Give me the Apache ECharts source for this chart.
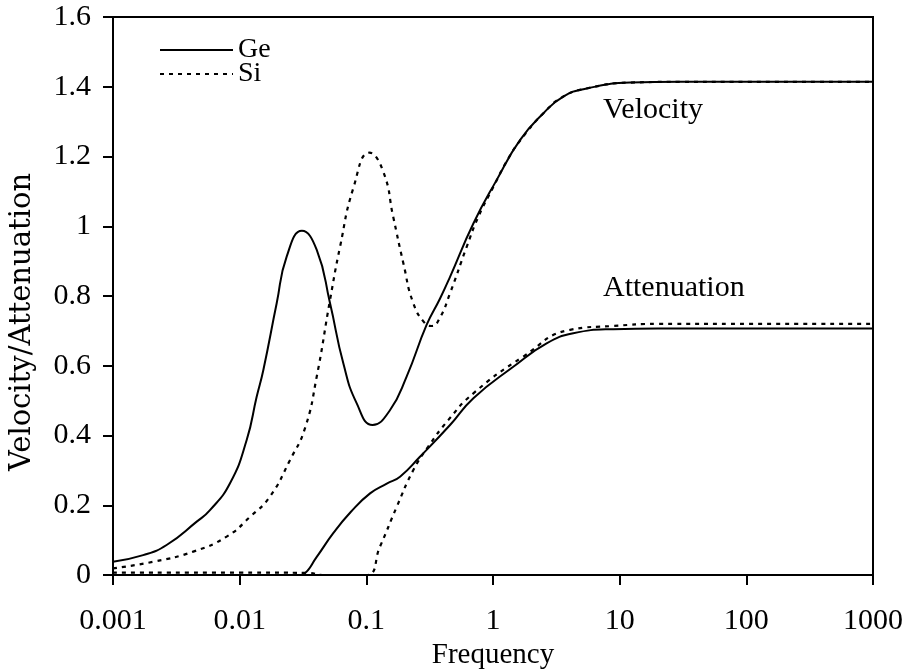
<!DOCTYPE html>
<html>
<head>
<meta charset="utf-8">
<script src="https://cdn.jsdelivr.net/npm/echarts@6/dist/echarts.min.js"></script>
<style>html,body{margin:0;padding:0;background:#fff}#chart{width:905px;height:671px}</style>
</head>
<body>
<div id="chart"></div>
<script>
// ---- data ----
const xTickLabels = ['0.001', '0.01', '0.1', '1', '10', '100', '1000'];
const yTickLabels = ['0', '0.2', '0.4', '0.6', '0.8', '1', '1.2', '1.4', '1.6'];
const legendNames = ['Ge', 'Si'];

const geVelX = [0.001, 0.00173, 0.00265, 0.00458, 0.00583, 0.00839, 0.01136, 0.01362, 0.01538, 0.0196, 0.0235, 0.031, 0.0406, 0.0517, 0.0658, 0.084, 0.112, 0.154, 0.208, 0.299, 0.382, 0.458, 0.7, 1.07, 1.633, 2.5, 3.59, 5.48, 12.1, 30, 100, 1000];
const geVelY = [0.038, 0.057, 0.086, 0.153, 0.186, 0.263, 0.387, 0.511, 0.588, 0.779, 0.913, 0.987, 0.932, 0.779, 0.607, 0.492, 0.430, 0.473, 0.569, 0.717, 0.793, 0.855, 1.008, 1.133, 1.247, 1.324, 1.372, 1.395, 1.412, 1.414, 1.414, 1.414];

const siVelX = [0.001, 0.00208, 0.0043, 0.00789, 0.0121, 0.01735, 0.025, 0.0328, 0.0406, 0.0517, 0.062, 0.0789, 0.1057, 0.136, 0.163, 0.196, 0.235, 0.29, 0.33, 0.38, 0.458, 0.62, 0.766, 1.007, 1.3, 1.633, 2.5, 3.59, 5.48, 12.1, 30, 100, 1000];
const siVelY = [0.019, 0.038, 0.067, 0.11, 0.167, 0.225, 0.33, 0.421, 0.569, 0.789, 0.941, 1.109, 1.211, 1.157, 1.027, 0.894, 0.779, 0.722, 0.714, 0.737, 0.808, 0.941, 1.027, 1.113, 1.19, 1.245, 1.324, 1.372, 1.395, 1.412, 1.414, 1.414, 1.414];

const geAttX = [0.001, 0.01, 0.03, 0.0318, 0.0406, 0.0548, 0.075, 0.107, 0.145, 0.1845, 0.265, 0.458, 0.7, 1.446, 2.65, 4.3, 8.9, 20, 100, 1000];
const geAttY = [0, 0, 0, 0.002, 0.052, 0.12, 0.18, 0.234, 0.262, 0.282, 0.339, 0.43, 0.507, 0.597, 0.664, 0.693, 0.705, 0.707, 0.707, 0.707];

const siAttX = [0.001, 0.01, 0.035, 0.045, 0.1, 0.128, 0.174, 0.235, 0.308, 0.443, 0.7, 1.73, 4.06, 8.9, 20, 100, 1000];
const siAttY = [0.007, 0.007, 0.006, 0, 0, 0.081, 0.196, 0.301, 0.368, 0.444, 0.521, 0.626, 0.703, 0.714, 0.72, 0.72, 0.72];

const curveLabels = ['Velocity', 'Attenuation'];

// ---- chart ----
const font = 'Liberation Serif, Times New Roman, serif';
const pair = (xs, ys) => xs.map((x, i) => [x, ys[i]]);
const solid = { color: '#000', width: 2, type: 'solid' };
const dotted = { color: '#000', width: 2.2, type: [4, 5] };

function mkSeries(name, xs, ys, ls) {
  return {
    type: 'line', name: name, data: pair(xs, ys),
    smooth: 0.5, symbol: 'none', showSymbol: false,
    lineStyle: ls, itemStyle: { color: '#000' }, silent: true, animation: false
  };
}

const chart = echarts.init(document.getElementById('chart'));
chart.setOption({
  animation: false,
  backgroundColor: '#fff',
  grid: {
    left: 113, right: 32, top: 17, bottom: 96, containLabel: false, outerBoundsMode: 'none',
    show: true, borderColor: '#000', borderWidth: 2
  },
  legend: {
    data: legendNames, orient: 'vertical', left: 154, top: 31,
    itemWidth: 73, itemHeight: 14, itemGap: -4,
    itemStyle: { opacity: 0, color: 'rgba(0,0,0,0)', borderWidth: 0 },
    textStyle: { fontFamily: font, fontSize: 28, color: '#000', padding: [0, 0, 0, 0] },
    selectedMode: false
  },
  xAxis: {
    type: 'log', logBase: 10, min: 0.001, max: 1000,
    name: 'Frequency', nameLocation: 'middle', nameGap: 65,
    nameTextStyle: { fontFamily: font, fontSize: 29, color: '#000' },
    axisLine: { show: true, lineStyle: { color: '#000', width: 2 } },
    axisTick: { show: true, inside: false, length: 10, lineStyle: { color: '#000', width: 2 } },
    minorTick: { show: false },
    splitLine: { show: false },
    axisLabel: {
      margin: 31, fontFamily: font, fontSize: 30, color: '#000',
      formatter: v => xTickLabels[Math.round(Math.log10(v)) + 3]
    }
  },
  yAxis: {
    type: 'value', min: 0, max: 1.6, interval: 0.2,
    name: 'Velocity/Attenuation', nameLocation: 'middle', nameGap: 76,
    nameTextStyle: { fontFamily: 'DejaVu Serif, serif', fontSize: 29, color: '#000', padding: [0, 52, 0, 0] },
    axisLine: { show: true, lineStyle: { color: '#000', width: 2 } },
    axisTick: { show: true, inside: false, length: 10, lineStyle: { color: '#000', width: 2 } },
    splitLine: { show: false },
    axisLabel: {
      margin: 22, fontFamily: font, fontSize: 30, color: '#000',
      formatter: v => yTickLabels[Math.round(v / 0.2)]
    }
  },
  graphic: [
    { type: 'text', left: 603, top: 95, style: { text: curveLabels[0], font: '30px ' + font, fill: '#000' } },
    { type: 'text', left: 603, top: 273, style: { text: curveLabels[1], font: '30px ' + font, fill: '#000' } }
  ],
  series: [
    mkSeries('Ge', geVelX, geVelY, solid),
    mkSeries('Si', siVelX, siVelY, dotted),
    mkSeries('Ge', geAttX, geAttY, solid),
    mkSeries('Si', siAttX, siAttY, dotted)
  ]
});
</script>
</body>
</html>
